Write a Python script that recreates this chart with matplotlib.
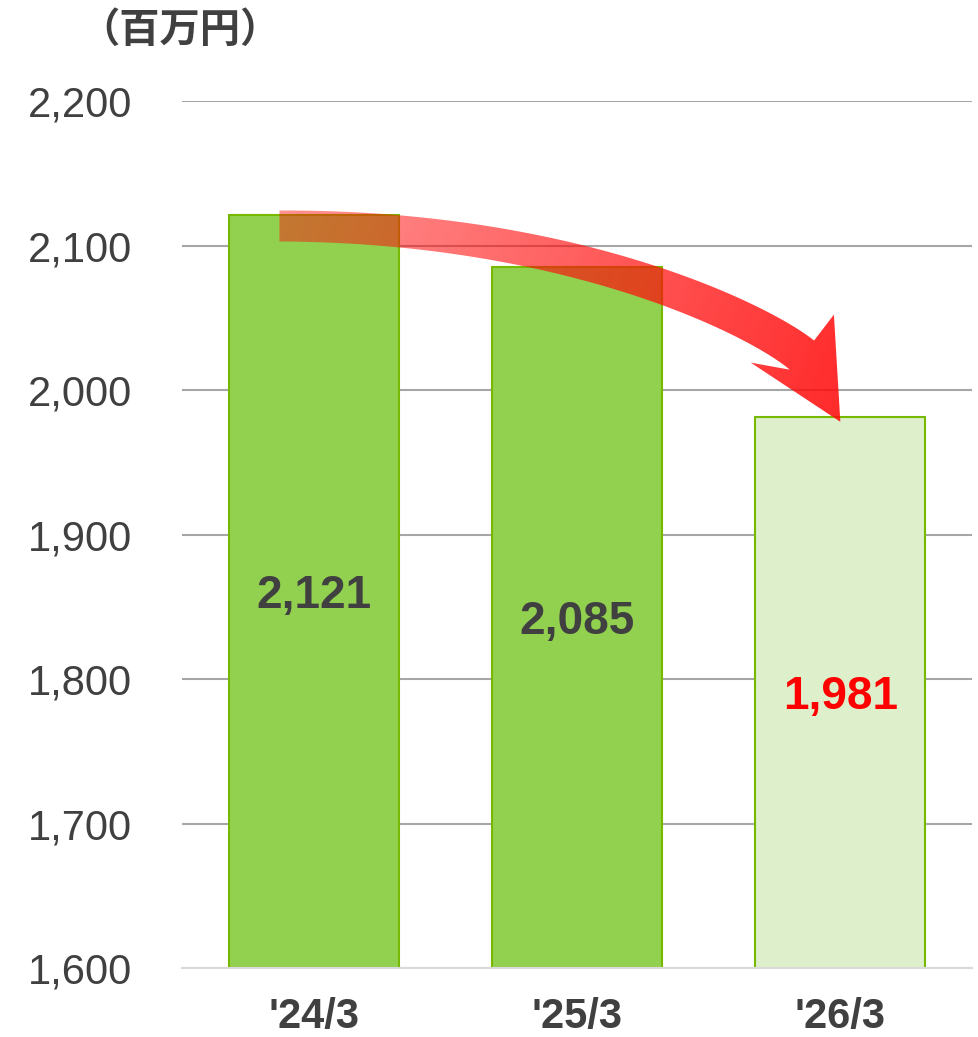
import numpy as np
import matplotlib.pyplot as plt
from matplotlib.patches import Polygon

plt.rcParams['font.family'] = ['Liberation Sans', 'Noto Sans CJK JP', 'DejaVu Sans']

# データ
periods = ["'24/3", "'25/3", "'26/3"]
sales = [2121, 2085, 1981]          # 百万円
y_ticks = [1600, 1700, 1800, 1900, 2000, 2100, 2200]
unit_label = '（百万円）'

# 色
bar_colors = ['#92D050', '#92D050', '#DDEFCB']
label_colors = ['#404040', '#404040', '#FF0000']
text_gray = '#404040'

W, H = 979, 1037
fig = plt.figure(figsize=(W / 100, H / 100), dpi=100)
ax = fig.add_axes([182 / W, 69 / H, 790 / W, 867 / H])

x = np.arange(len(periods))
ax.bar(x, sales, width=0.646, color=bar_colors, edgecolor='#77B900', linewidth=1.5, zorder=2)

ax.set_xlim(-0.5, len(periods) - 0.5)
ax.set_ylim(y_ticks[0], y_ticks[-1])
ax.set_yticks(y_ticks)
ax.set_yticklabels([f'{v:,}' for v in y_ticks])
ax.set_xticks(x)
ax.set_xticklabels(periods, fontweight='bold')

ax.yaxis.grid(True, color='#A6A6A6', linewidth=1.5)
ax.set_axisbelow(True)
for s in ['top', 'right', 'left']:
    ax.spines[s].set_visible(False)
ax.spines['bottom'].set_color('#D9D9D9')
ax.spines['bottom'].set_linewidth(1.5)
ax.tick_params(axis='y', length=0, pad=36, labelsize=30, labelcolor=text_gray)
ax.tick_params(axis='x', length=0, pad=21, labelsize=30, labelcolor=text_gray)

# 棒の中の数値
for i, v in enumerate(sales):
    ax.text(i, (v + y_ticks[0]) / 2 - 3, f'{v:,}', ha='center', va='center',
            fontsize=33, fontweight='bold', color=label_colors[i], zorder=3)

fig.text(180 / W, 1 - 30 / H, unit_label, ha='center', va='center', fontsize=29,
         fontweight='bold', color=text_gray, family=['Noto Sans CJK JP', 'DejaVu Sans'])

# 減少を示す矢印（画像座標で作る）
ov = fig.add_axes([0, 0, 1, 1], zorder=5)
ov.set_xlim(0, W)
ov.set_ylim(H, 0)
ov.axis('off')


def to_img(xd, yd):
    px, py = ax.transData.transform((xd, yd))
    return np.array([px, H - py])


p0 = to_img(x[0] - 0.13, sales[0] - 7.5)
tip = to_img(x[2], sales[2] - 3)
hd = np.array([np.cos(np.radians(60)), np.sin(np.radians(60))])
p3 = tip - 77 * hd
ed = np.array([np.cos(np.radians(40)), np.sin(np.radians(40))])
p1 = p0 + np.array([0.57 * (p3[0] - p0[0]), 0])
p2 = p3 - 50 * ed

t = np.linspace(0, 1, 120)[:, None]
curve = (1 - t) ** 3 * p0 + 3 * (1 - t) ** 2 * t * p1 + 3 * (1 - t) * t ** 2 * p2 + t ** 3 * p3
deriv = 3 * (1 - t) ** 2 * (p1 - p0) + 6 * (1 - t) * t * (p2 - p1) + 3 * t ** 2 * (p3 - p2)
deriv = deriv / np.linalg.norm(deriv, axis=1, keepdims=True)
normal = np.column_stack([-deriv[:, 1], deriv[:, 0]])
half_w = (15.5 + 3.5 * t)
top_edge = curve - half_w * normal
bot_edge = curve + half_w * normal

nh = np.array([-hd[1], hd[0]])
hc = tip - 96 * hd
barb_top = hc - 48 * nh
barb_bot = hc + 48 * nh
pts = np.vstack([top_edge, barb_top, tip, barb_bot, bot_edge[::-1]])

clip = Polygon(pts, closed=True, facecolor='none', edgecolor='none')
ov.add_patch(clip)

xmin, ymin = pts.min(axis=0) - 2
xmax, ymax = pts.max(axis=0) + 2
gx, gy = np.meshgrid(np.linspace(xmin, xmax, 400), np.linspace(ymin, ymax, 200))
vec = tip - p0
s = ((gx - p0[0]) * vec[0] + (gy - p0[1]) * vec[1]) / (vec @ vec)
s = np.clip(s, 0, 1)
c0 = np.array([1.0, 0.05, 0.05, 0.45])
c1 = np.array([1.0, 0.05, 0.05, 0.88])
rgba = c0 + s[..., None] * (c1 - c0)
im = ov.imshow(rgba, extent=(xmin, xmax, ymax, ymin), origin='upper',
               aspect='auto', interpolation='bilinear')
im.set_clip_path(clip)
ov.set_xlim(0, W)
ov.set_ylim(H, 0)

fig.savefig('out.png', dpi=100)
